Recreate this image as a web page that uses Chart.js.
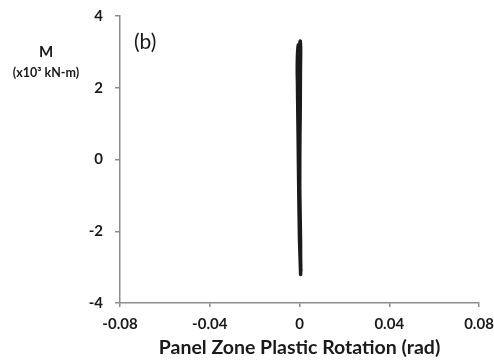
<!DOCTYPE html>
<html>
<head>
<meta charset="utf-8">
<script src="https://cdn.jsdelivr.net/npm/chart.js@4/dist/chart.umd.min.js"></script>
<style>
  html, body { margin: 0; padding: 0; background: #fff; }
  #wrap { width: 494px; height: 363px; position: relative; }
</style>
</head>
<body>
<div id="wrap"><canvas id="pzChart"></canvas></div>
<script>
// Panel zone moment vs plastic rotation, traced cycle by cycle
var rotation = [
	0, 0.0003, 0.0004, 0.0005, 0.0003, -0.0005, -0.0008, -0.0006, -0.0003, 0.0000, 0.0004, 0.0005, 0.0003,
	0.0001, 0.0002, 0.0003, -0.0004, -0.0009, -0.0007, -0.0002, 0.0002, 0.0003, 0.0005, 0.0004,
	0.0000, 0.0001, 0.0002, -0.0005, -0.0010, -0.0006, -0.0002, 0.0002, 0.0004, 0.0006, 0.0003, 0.0000
];
var moment = [
	0, 1.2, 2.4, 3.1, 3.3, 2.7, 1.8, 0.6, -1.0, -2.2, -3.0, -3.2, -2.4,
	-0.8, 0.9, 2.2, 2.9, 2.4, 1.2, -0.4, -1.8, -2.6, -2.9, -2.0,
	-0.3, 1.4, 2.6, 3.2, 2.5, 1.5, 0.2, -1.4, -2.5, -3.1, -2.7, -1.0
];
var xTicks = ['-0.08', '-0.04', '0', '0.04', '0.08'];
var yTicks = ['-4', '-2', '0', '2', '4'];

var points = rotation.map(function (r, i) { return { x: r, y: moment[i] }; });

var tickFont = { family: 'Lato', size: 15, weight: 'bold' };

// y-axis title and the panel tag are drawn straight onto the canvas
var extraText = {
	id: 'extraText',
	afterDraw: function (chart) {
		var ctx = chart.ctx;
		ctx.save();
		ctx.fillStyle = '#1a1a1a';
		ctx.textAlign = 'center';
		ctx.textBaseline = 'middle';
		ctx.font = 'bold 15px Lato';
		ctx.fillText('M', 46, 52);
		ctx.font = 'bold 12.5px Lato';
		ctx.fillText('(x10\u00b3 kN-m)', 46, 73);
		ctx.font = '21px Lato';
		ctx.textAlign = 'left';
		ctx.fillText('(b)', 134, 42);
		ctx.restore();
	}
};

new Chart(document.getElementById('pzChart'), {
	type: 'scatter',
	data: {
		datasets: [{
			data: points,
			showLine: true,
			borderColor: '#1a1a1a',
			borderWidth: 3.5,
			pointRadius: 0,
			tension: 0.3
		}]
	},
	options: {
		responsive: true,
		maintainAspectRatio: false,
		animation: false,
		layout: { padding: { top: 16, right: 15, left: 0, bottom: 0 } },
		plugins: { legend: { display: false }, tooltip: { enabled: false } },
		scales: {
			x: {
				type: 'linear',
				min: -0.08,
				max: 0.08,
				afterBuildTicks: function (axis) {
					axis.ticks = xTicks.map(function (t) { return { value: parseFloat(t) }; });
				},
				afterFit: function (axis) {
					axis.height = 60;
					axis.paddingRight = 0;
				},
				grid: { drawOnChartArea: false, drawTicks: true, tickLength: 4, color: '#8c8c8c', lineWidth: 1.5 },
				border: { color: '#8c8c8c', width: 1.5 },
				ticks: {
					color: '#1a1a1a',
					font: tickFont,
					padding: 8,
					maxRotation: 0,
					callback: function (v, i) { return xTicks[i]; }
				},
				title: {
					display: true,
					text: 'Panel Zone Plastic Rotation (rad)',
					color: '#1a1a1a',
					font: { family: 'Lato', size: 19.5, weight: 'bold' },
					padding: { top: 2 }
				}
			},
			y: {
				min: -4,
				max: 4,
				afterBuildTicks: function (axis) {
					axis.ticks = yTicks.map(function (t) { return { value: parseFloat(t) }; });
				},
				afterFit: function (axis) {
					axis.width = 120;
					axis.paddingTop = 0;
				},
				grid: { drawOnChartArea: false, drawTicks: true, tickLength: 5, color: '#8c8c8c', lineWidth: 1.5 },
				border: { color: '#8c8c8c', width: 1.5 },
				ticks: {
					color: '#1a1a1a',
					font: tickFont,
					padding: 12,
					callback: function (v, i) { return yTicks[i]; }
				}
			}
		}
	},
	plugins: [extraText]
});
</script>
</body>
</html>
